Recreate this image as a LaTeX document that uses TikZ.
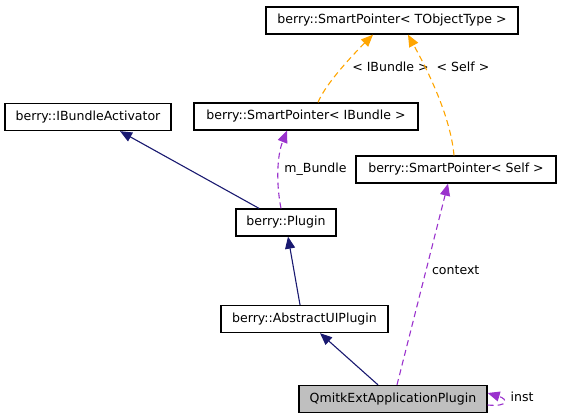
\documentclass[tikz,border=0pt]{standalone}
\usepackage{fontspec}
\setmainfont{DejaVu Sans}
\usetikzlibrary{arrows.meta}
\definecolor{inhcol}{RGB}{25,25,112}
\definecolor{usecol}{RGB}{154,50,205}
\definecolor{tplcol}{RGB}{255,165,0}
\definecolor{boxfill}{RGB}{191,191,191}
\begin{document}
\begin{tikzpicture}[x=1bp,y=-1bp,
  every node/.style={font=\fontsize{12.6}{14}\selectfont, inner sep=0pt},
  cls/.style={draw=black, line width=1.3bp, fill=white, minimum height=27bp},
  tip/.style={-{Triangle[length=12bp,width=10bp]}},
  inh/.style={draw=inhcol, line width=1.1bp, tip},
  use/.style={draw=usecol, line width=1.1bp, dash pattern=on 6bp off 4bp, tip},
  tpl/.style={draw=tplcol, line width=1.1bp, dash pattern=on 6bp off 4bp, tip},
  lbl/.style={text=black}]
\useasboundingbox (0,0) rectangle (561,419);
\node[cls, minimum width=252bp] (tobj) at (392,20.5) {berry::SmartPointer< TObjectType >};
\node[cls, minimum width=224bp] (spib) at (306,116.5) {berry::SmartPointer< IBundle >};
\node[cls, minimum width=200bp] (spself) at (456,169.5) {berry::SmartPointer< Self >};
\node[cls, minimum width=166bp] (iba) at (88,117) {berry::IBundleActivator};
\node[cls, minimum width=100bp] (plugin) at (286,222.5) {berry::Plugin};
\node[cls, minimum width=167bp] (aui) at (304.5,319) {berry::AbstractUIPlugin};
\node[cls, minimum width=188bp, fill=boxfill] (qmitk) at (393,399) {QmitkExtApplicationPlugin};
% inheritance
\draw[inh] ([xshift=-27bp]plugin.north) -- ([xshift=32bp]iba.south);
\draw[inh] ([xshift=-4.5bp]aui.north) -- ([xshift=2bp]plugin.south);
\draw[inh] ([xshift=-15bp]qmitk.north) -- ([xshift=15.5bp]aui.south);
% usage
\draw[use] ([xshift=-5bp]plugin.north) .. controls +(-5,-25) and +(-10,25) .. ([xshift=-19bp]spib.south);
\node[lbl] (lmb) at (315.5,169) {m\_Bundle};
\draw[use] ([xshift=4bp]qmitk.north) -- ([xshift=-8bp]spself.south);
\node[lbl] (lctx) at (455.7,270) {context};
\draw[use] ([yshift=-6bp]qmitk.east) .. controls +(22,2) and +(20,6) .. ([yshift=6bp]qmitk.east);
\node[lbl] (linst) at (522,397) {inst};
% template
\draw[tpl] ([xshift=12bp]spib.north) .. controls +(8,-20) and +(-15,15) .. ([xshift=-19bp]tobj.south);
\node[lbl] (lib) at (390.5,66.7) {< IBundle >};
\draw[tpl] ([xshift=-2bp]spself.north) .. controls +(-4,-45) and +(12,22) .. ([xshift=16bp]tobj.south);
\node[lbl] (lself) at (463,66.7) {< Self >};
\end{tikzpicture}
\end{document}
